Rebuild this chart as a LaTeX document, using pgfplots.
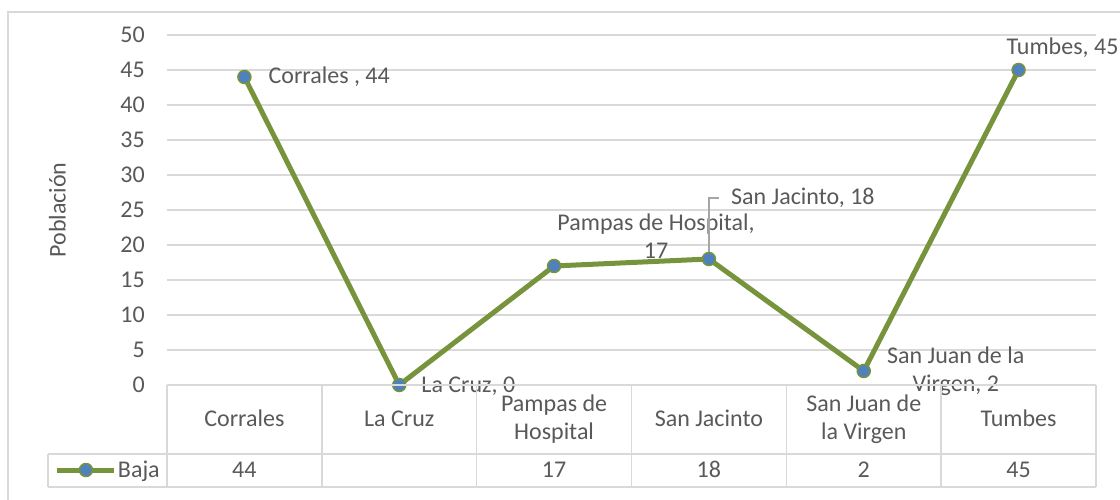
\documentclass[border=0pt]{standalone}
\usepackage{pgfplots}
\pgfplotsset{compat=1.18}
\usepackage{fontspec}
\setmainfont{Carlito}
\definecolor{txt}{HTML}{595959}
\definecolor{grd}{HTML}{D9D9D9}
\definecolor{lgreen}{HTML}{77933C}
\definecolor{mblue}{HTML}{4F81BD}
\definecolor{lead}{HTML}{A6A6A6}
\begin{document}
\begin{tikzpicture}[font=\fontsize{24}{27.5}\selectfont, text=txt]
\useasboundingbox (-167pt,-115pt) rectangle (953pt,385pt);
% outer frame
\draw[grd, line width=1.5pt] (-159pt,-115pt) -- (-159pt,373pt) -- (953pt,373pt);
\begin{axis}[
  at={(0pt,0pt)}, anchor=south west, scale only axis,
  width=929pt, height=350pt,
  xmin=-0.5, xmax=5.5, ymin=0, ymax=50,
  axis x line*=bottom, axis y line*=left,
  axis line style={draw=none},
  xtick=\empty,
  ytick={0,5,...,50},
  ymajorgrids, grid style={grd, line width=1.3pt},
  major tick length=0pt,
  tick label style={text=txt, font=\fontsize{24}{27.5}\selectfont},
  yticklabel style={anchor=east, inner sep=0pt, xshift=-22pt},
  /pgf/number format/assume math mode=true,
  ylabel={Población},
  ylabel style={at={(axis description cs:-0.118,0.5)}, anchor=center, text=txt, font=\fontsize{24}{27.5}\selectfont},
  clip=false,
  legend style={at={(axis description cs:-0.1206,-0.2429)}, anchor=west, draw=none, fill=none, inner sep=0pt, outer sep=0pt,
    nodes={inner sep=1pt, text=txt, font=\fontsize{24}{27.5}\selectfont}},
  legend image code/.code={\draw[mark repeat=2,mark phase=2,#1] plot coordinates {(0pt,0pt)(28.5pt,0pt)(57pt,0pt)};},
]
\addplot[lgreen, line width=5pt, mark=*, mark size=6.5pt,
  mark options={fill=mblue, draw=lgreen, line width=1.5pt}]
  coordinates {(0,44)(1,0)(2,17)(3,18)(4,2)(5,45)};
\addlegendentry{Baja}
% data labels
\node[anchor=west, inner sep=0pt, xshift=24pt] at (axis cs:0,44) {Corrales , 44};
\node[anchor=west, inner sep=0pt, xshift=22pt, yshift=-1pt] at (axis cs:1,0) {La Cruz, 0};
\node[align=center, inner sep=0pt, xshift=102pt, yshift=30pt] at (axis cs:2,17) {Pampas de Hospital,\\17};
\draw[lead, line width=1.2pt] ([yshift=7pt]axis cs:3,18) -- ([yshift=61pt]axis cs:3,18) -- ([xshift=10pt,yshift=61pt]axis cs:3,18);
\node[anchor=west, inner sep=0pt, xshift=22pt, yshift=61pt] at (axis cs:3,18) {San Jacinto, 18};
\node[align=center, inner sep=0pt, xshift=92pt, yshift=0pt] at (axis cs:4,2) {San Juan de la\\Virgen, 2};
\node[inner sep=0pt, xshift=44pt, yshift=22pt] at (axis cs:5,45) {Tumbes, 45};
\end{axis}
% data table
\begin{scope}[grd, line width=1.5pt]
\draw (0pt,0pt) -- (929pt,0pt);
\draw (-119pt,-69pt) -- (929pt,-69pt);
\draw (-119pt,-102pt) -- (929pt,-102pt);
\draw (-119pt,-69pt) -- (-119pt,-102pt);
\foreach \x in {0,154.83,309.67,464.5,619.33,774.17,929} {\draw (\x pt,0pt) -- (\x pt,-102pt);}
\end{scope}
\begin{scope}[every node/.style={align=center, inner sep=0pt, text=txt}]
\node[anchor=base] at (77.4pt,-41.5pt) {Corrales};
\node[anchor=base] at (232.3pt,-41.5pt) {La Cruz};
\node at (387.1pt,-34pt) {Pampas de\\Hospital};
\node[anchor=base] at (541.9pt,-41.5pt) {San Jacinto};
\node at (696.8pt,-34pt) {San Juan de\\la Virgen};
\node[anchor=base] at (851.6pt,-41.5pt) {Tumbes};
\node[anchor=base] at (77.4pt,-92.5pt) {44};
\node[anchor=base] at (387.1pt,-92.5pt) {17};
\node[anchor=base] at (541.9pt,-92.5pt) {18};
\node[anchor=base] at (696.8pt,-92.5pt) {2};
\node[anchor=base] at (851.6pt,-92.5pt) {45};
\end{scope}
\end{tikzpicture}
\end{document}
